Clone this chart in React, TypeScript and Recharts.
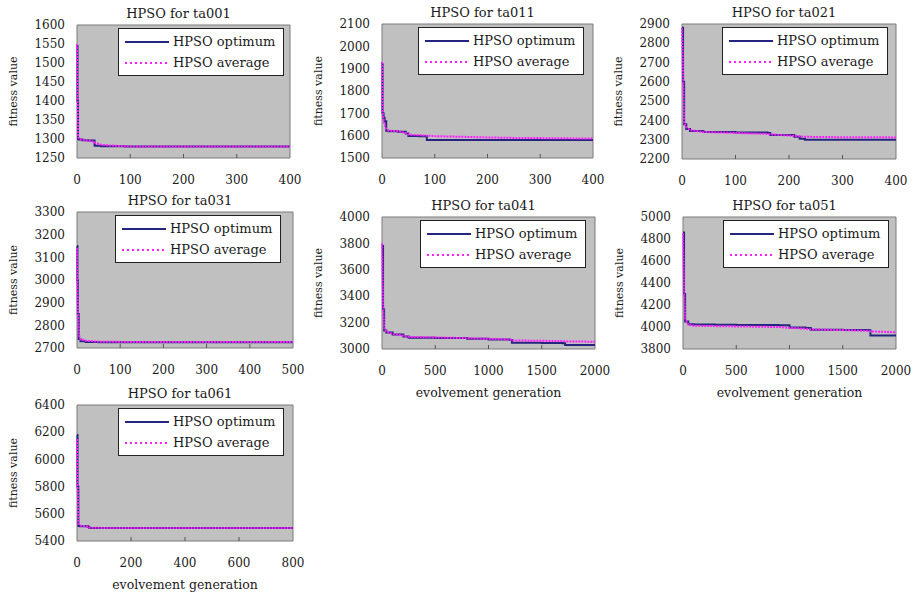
import React from 'react';
import { LineChart, Line, XAxis, YAxis, ReferenceArea, Legend } from 'recharts';

// ---- data (generation, best fitness, mean fitness) ----
const TA001_GEN = [0, 1, 2, 4, 10, 20, 33, 34, 45, 60, 90, 120, 200, 300, 400];
const TA001_OPT = [1545, 1400, 1300, 1299, 1297, 1296, 1283, 1282, 1281, 1281, 1280, 1280, 1280, 1280, 1280];
const TA001_AVG = [1550, 1430, 1305, 1300, 1298, 1296, 1292, 1290, 1285, 1283, 1281, 1280, 1280, 1280, 1280];

const TA011_GEN = [0, 1, 3, 5, 8, 12, 30, 45, 50, 70, 85, 100, 150, 200, 250, 300, 350, 400];
const TA011_OPT = [1920, 1700, 1680, 1665, 1622, 1620, 1618, 1610, 1598, 1597, 1581, 1581, 1581, 1581, 1581, 1581, 1581, 1581];
const TA011_AVG = [1930, 1720, 1670, 1650, 1630, 1622, 1620, 1612, 1605, 1602, 1600, 1598, 1595, 1592, 1590, 1589, 1588, 1587];

const TA021_GEN = [0, 2, 4, 8, 15, 40, 100, 160, 165, 210, 220, 230, 300, 400];
const TA021_OPT = [2880, 2600, 2380, 2355, 2345, 2340, 2338, 2335, 2325, 2315, 2305, 2300, 2300, 2300];
const TA021_AVG = [2880, 2650, 2390, 2365, 2350, 2340, 2335, 2330, 2328, 2320, 2318, 2315, 2313, 2312];

const TA031_GEN = [0, 1, 2, 4, 8, 20, 50, 100, 200, 300, 400, 500];
const TA031_OPT = [3150, 3000, 2850, 2740, 2730, 2727, 2725, 2725, 2725, 2725, 2725, 2725];
const TA031_AVG = [3140, 2980, 2880, 2760, 2738, 2732, 2728, 2727, 2727, 2726, 2726, 2726];

const TA041_GEN = [0, 10, 20, 40, 100, 200, 250, 500, 800, 1000, 1200, 1220, 1500, 1700, 1720, 2000];
const TA041_OPT = [3780, 3300, 3140, 3125, 3110, 3095, 3085, 3083, 3078, 3072, 3068, 3048, 3045, 3043, 3030, 3030];
const TA041_AVG = [3800, 3350, 3160, 3130, 3115, 3100, 3092, 3088, 3082, 3077, 3072, 3065, 3062, 3060, 3058, 3055];

const TA051_GEN = [0, 10, 20, 50, 100, 300, 500, 900, 1000, 1150, 1200, 1500, 1740, 1760, 2000];
const TA051_OPT = [4860, 4300, 4050, 4025, 4022, 4020, 4018, 4015, 3995, 3990, 3975, 3972, 3970, 3922, 3922];
const TA051_AVG = [4850, 4350, 4080, 4020, 4012, 4008, 4005, 4000, 3992, 3985, 3978, 3972, 3965, 3960, 3952];

const TA061_GEN = [0, 2, 5, 10, 40, 45, 100, 200, 400, 600, 800];
const TA061_OPT = [6180, 5800, 5510, 5508, 5505, 5495, 5495, 5495, 5495, 5495, 5495];
const TA061_AVG = [6150, 5850, 5530, 5515, 5505, 5498, 5496, 5495, 5495, 5495, 5495];

const X_TICKS_400 = [0, 100, 200, 300, 400];
const X_TICKS_500 = [0, 100, 200, 300, 400, 500];
const X_TICKS_800 = [0, 200, 400, 600, 800];
const X_TICKS_2000 = [0, 500, 1000, 1500, 2000];

const Y_TICKS_001 = [1250, 1300, 1350, 1400, 1450, 1500, 1550, 1600];
const Y_TICKS_011 = [1500, 1600, 1700, 1800, 1900, 2000, 2100];
const Y_TICKS_021 = [2200, 2300, 2400, 2500, 2600, 2700, 2800, 2900];
const Y_TICKS_031 = [2700, 2800, 2900, 3000, 3100, 3200, 3300];
const Y_TICKS_041 = [3000, 3200, 3400, 3600, 3800, 4000];
const Y_TICKS_051 = [3800, 4000, 4200, 4400, 4600, 4800, 5000];
const Y_TICKS_061 = [5400, 5600, 5800, 6000, 6200, 6400];

const FONT = '"DejaVu Serif", "Liberation Serif", serif';
const OPT_COLOR = '#25257f';
const AVG_COLOR = '#ff1eff';
const PLOT_BG = '#c0c0c0';
const TEXT = '#1a1a1a';

const YAXIS_W = 77;
const TOP = 25;
const RIGHT = 20;
const XAXIS_H = 52;
const SERIES_ORDER = ['opt', 'avg'];

interface Panel {
    title: string;
    gen: number[];
    opt: number[];
    avg: number[];
    xTicks: number[];
    yTicks: number[];
    plot: { x: number; y: number; w: number; h: number };
    legendX: number;
    xTitle: boolean;
}

const PANELS: Panel[] = [
    { title: 'HPSO for ta001', gen: TA001_GEN, opt: TA001_OPT, avg: TA001_AVG, xTicks: X_TICKS_400, yTicks: Y_TICKS_001, plot: { x: 77, y: 25, w: 213, h: 133 }, legendX: 118, xTitle: false },
    { title: 'HPSO for ta011', gen: TA011_GEN, opt: TA011_OPT, avg: TA011_AVG, xTicks: X_TICKS_400, yTicks: Y_TICKS_011, plot: { x: 382, y: 24, w: 211, h: 134 }, legendX: 418, xTitle: false },
    { title: 'HPSO for ta021', gen: TA021_GEN, opt: TA021_OPT, avg: TA021_AVG, xTicks: X_TICKS_400, yTicks: Y_TICKS_021, plot: { x: 682, y: 24, w: 214, h: 135 }, legendX: 722, xTitle: false },
    { title: 'HPSO for ta031', gen: TA031_GEN, opt: TA031_OPT, avg: TA031_AVG, xTicks: X_TICKS_500, yTicks: Y_TICKS_031, plot: { x: 77, y: 212, w: 216, h: 136 }, legendX: 115, xTitle: false },
    { title: 'HPSO for ta041', gen: TA041_GEN, opt: TA041_OPT, avg: TA041_AVG, xTicks: X_TICKS_2000, yTicks: Y_TICKS_041, plot: { x: 382, y: 217, w: 213, h: 132 }, legendX: 420, xTitle: true },
    { title: 'HPSO for ta051', gen: TA051_GEN, opt: TA051_OPT, avg: TA051_AVG, xTicks: X_TICKS_2000, yTicks: Y_TICKS_051, plot: { x: 683, y: 217, w: 213, h: 132 }, legendX: 723, xTitle: true },
    { title: 'HPSO for ta061', gen: TA061_GEN, opt: TA061_OPT, avg: TA061_AVG, xTicks: X_TICKS_800, yTicks: Y_TICKS_061, plot: { x: 77, y: 405, w: 216, h: 136 }, legendX: 118, xTitle: true },
];

const XTick = (props: any) => {
    const { x, y, payload, index, visibleTicksCount } = props;
    const inner = index > 0 && index < (visibleTicksCount ?? 99) - 1;
    return (
        <g>
            {inner && <line x1={x} x2={x} y1={y} y2={y - 4} stroke="#555" strokeWidth={1} />}
            <text x={x} y={y + 22} dy="0.35em" textAnchor="middle" fill={TEXT} fontFamily={FONT} fontSize={12}>
                {payload.value}
            </text>
        </g>
    );
};

const YTick = (props: any) => {
    const { x, y, payload } = props;
    return (
        <text x={x - 12} y={y} dy="0.35em" textAnchor="end" fill={TEXT} fontFamily={FONT} fontSize={12}>
            {payload.value}
        </text>
    );
};

const YTitle = (props: any) => {
    const vb = props.viewBox || { x: 0, y: 0, width: 0, height: 0 };
    const cx = vb.x + 13;
    const cy = vb.y + vb.height / 2;
    return (
        <text x={cx} y={cy} dy="0.35em" textAnchor="middle" transform={`rotate(-90, ${cx}, ${cy})`} fill={TEXT} fontFamily={FONT} fontSize={11}>
            fitness value
        </text>
    );
};

const XTitle = (props: any) => {
    const vb = props.viewBox || { x: 0, y: 0, width: 0, height: 0 };
    return (
        <text x={vb.x + vb.width / 2} y={vb.y + 44} dy="0.35em" textAnchor="middle" fill={TEXT} fontFamily={FONT} fontSize={12.5}>
            evolvement generation
        </text>
    );
};

const LegendBox = (props: any) => {
    const items = [...(props.payload || [])].sort(
        (a: any, b: any) => SERIES_ORDER.indexOf(a.dataKey) - SERIES_ORDER.indexOf(b.dataKey)
    );
    return (
        <div style={{ width: 166, height: 48, background: '#fff', border: '1px solid #222', boxSizing: 'border-box', paddingTop: 2, fontFamily: FONT, fontSize: 13, color: TEXT }}>
            {items.map((item: any) => (
                <div key={item.value} style={{ display: 'flex', alignItems: 'center', height: 21 }}>
                    <svg width={50} height={6} style={{ marginLeft: 4 }}>
                        <line x1={2} x2={46} y1={3} y2={3} stroke={item.color} strokeWidth={2}
                            strokeDasharray={item.dataKey === 'avg' ? '2 3' : undefined} />
                    </svg>
                    <span style={{ whiteSpace: 'nowrap' }}>{item.value}</span>
                </div>
            ))}
        </div>
    );
};

const HpsoPanel: React.FC<{ p: Panel }> = ({ p }) => {
    const data = p.gen.map((g, i) => ({ gen: g, opt: p.opt[i], avg: p.avg[i] }));
    const left = p.plot.x - YAXIS_W;
    const top = p.plot.y - TOP;
    const width = YAXIS_W + p.plot.w + RIGHT;
    const height = TOP + p.plot.h + XAXIS_H;
    const xMin = p.xTicks[0];
    const xMax = p.xTicks[p.xTicks.length - 1];
    const yMin = p.yTicks[0];
    const yMax = p.yTicks[p.yTicks.length - 1];

    return (
        <div style={{ position: 'absolute', left, top, width, height }}>
            <LineChart width={width} height={height} data={data} margin={{ top: TOP, right: RIGHT, bottom: 0, left: 0 }}>
                <XAxis dataKey="gen" type="number" domain={[xMin, xMax]} ticks={p.xTicks} interval={0}
                    height={XAXIS_H} tickSize={0} tickMargin={0} axisLine={false} tick={<XTick />}
                    label={p.xTitle ? <XTitle /> : undefined} />
                <YAxis type="number" domain={[yMin, yMax]} ticks={p.yTicks} interval={0} width={YAXIS_W}
                    tickSize={0} tickMargin={0} axisLine={false} tick={<YTick />} label={<YTitle />} />
                <ReferenceArea x1={xMin} x2={xMax} y1={yMin} y2={yMax} fill={PLOT_BG} fillOpacity={1} stroke="#7a7a7a" strokeWidth={1} />
                <Line dataKey="opt" name="HPSO optimum" type="stepAfter" stroke={OPT_COLOR} strokeWidth={2} dot={false} isAnimationActive={false} />
                <Line dataKey="avg" name="HPSO average" type="linear" stroke={AVG_COLOR} strokeWidth={2} strokeDasharray="2 1" dot={false} isAnimationActive={false} />
                <Legend content={<LegendBox />} layout="horizontal" verticalAlign="middle" align="center"
                    wrapperStyle={{ left: p.legendX - left, top: p.plot.y + 3 - top, width: 166, height: 48 }} />
            </LineChart>
            <div style={{ position: 'absolute', left: YAXIS_W - 5, top: TOP - 19, width: p.plot.w, height: 16, lineHeight: '16px', textAlign: 'center', fontFamily: FONT, fontSize: 13, color: TEXT, whiteSpace: 'nowrap' }}>
                {p.title}
            </div>
        </div>
    );
};

export default function App() {
    return (
        <div style={{ position: 'absolute', left: 0, top: 0, width: 916, height: 596, background: '#fff', overflow: 'hidden' }}>
            {PANELS.map((p) => (
                <HpsoPanel key={p.title} p={p} />
            ))}
        </div>
    );
}
